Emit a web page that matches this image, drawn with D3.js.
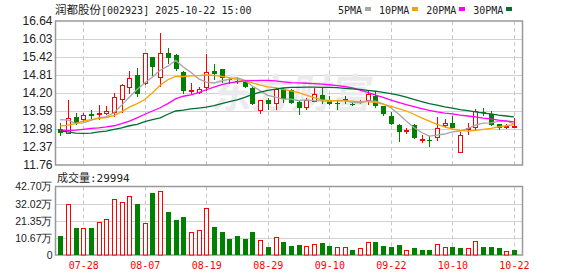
<!DOCTYPE html>
<html>
<head>
<meta charset="utf-8">
<title>润都股份 K线</title>
<style>
  body { margin: 0; background: #fff; }
  svg { display: block; }
  .mono { font-family: "DejaVu Sans Mono", "Liberation Mono", monospace; }
  .cjk { font-family: "Noto Sans CJK SC", sans-serif; }
  .yaxis text { font-family: "Liberation Sans", Arial, sans-serif; font-size: 12px; fill: #222; }
  .vaxis text { font-family: "Liberation Sans", Arial, sans-serif; font-size: 10.5px; fill: #222; }
  .xaxis text { font-family: "DejaVu Sans Mono", monospace; font-size: 10px; fill: #ff0000; }
</style>
</head>
<body>
<svg id="chart" width="578" height="276"></svg>
<script src="https://cdn.jsdelivr.net/npm/d3@7"></script>
<script>
  // trading days shown
  var dates = ["07-23", "07-24", "07-25", "07-28", "07-29", "07-30", "07-31", "08-01",
    "08-04", "08-05", "08-06", "08-07", "08-08", "08-11", "08-12", "08-13", "08-14", "08-15",
    "08-18", "08-19", "08-20", "08-21", "08-22", "08-25", "08-26", "08-27", "08-28", "08-29",
    "09-01", "09-02", "09-03", "09-04", "09-05", "09-08", "09-09", "09-10", "09-11", "09-12",
    "09-15", "09-16", "09-17", "09-18", "09-19", "09-22", "09-23", "09-24", "09-25", "09-26",
    "09-29", "09-30", "10-09", "10-10", "10-13", "10-14", "10-15", "10-16", "10-17", "10-20",
    "10-21", "10-22"];

  var open = [12.98, 12.82, 13.37, 13.27, 13.49, 13.46, 13.49, 13.51, 13.97, 14.36,
    14.81, 14.50, 15.42, 14.72, 15.54, 15.49, 14.91, 14.27, 14.19, 14.38,
    14.94, 15.01, 14.66, 14.61, 14.56, 14.37, 13.60, 13.96, 13.82, 14.32,
    14.29, 13.91, 13.70, 13.88, 14.13, 13.97, 13.87, 13.99, 13.84, 13.88,
    13.93, 14.09, 13.75, 13.41, 13.10, 12.87, 13.10, 12.62, 12.61, 12.66,
    13.08, 13.18, 12.18, 12.96, 13.02, 13.55, 13.48, 13.14, 13.00, 13.05];
  var high = [13.17, 13.96, 13.51, 13.51, 13.63, 13.79, 13.76, 14.20, 14.52, 14.94,
    15.05, 15.56, 15.42, 16.23, 15.71, 15.53, 14.94, 14.53, 14.40, 15.53,
    15.19, 15.01, 14.74, 14.70, 14.61, 14.40, 13.97, 14.02, 14.38, 14.38,
    14.32, 13.97, 14.02, 14.38, 14.42, 14.09, 13.97, 14.10, 13.87, 13.97,
    14.27, 14.24, 13.77, 13.57, 13.16, 13.00, 13.14, 12.76, 12.73, 13.37,
    13.31, 13.41, 12.88, 13.19, 13.65, 13.68, 13.59, 13.16, 13.16, 13.36];
  var low = [12.74, 12.82, 13.11, 13.22, 13.30, 13.27, 13.44, 13.37, 13.52, 14.15,
    14.07, 14.47, 14.78, 14.40, 15.17, 14.94, 14.18, 14.18, 14.15, 14.27,
    14.63, 14.55, 14.49, 14.49, 14.38, 13.79, 13.50, 13.61, 13.61, 13.87,
    13.84, 13.44, 13.61, 13.88, 13.84, 13.79, 13.61, 13.82, 13.77, 13.82,
    13.78, 13.70, 13.43, 13.11, 12.55, 12.80, 12.63, 12.52, 12.37, 12.59,
    13.02, 13.02, 12.18, 12.77, 12.96, 13.43, 13.08, 12.93, 12.97, 13.02];
  var close = [12.83, 13.36, 13.17, 13.44, 13.42, 13.52, 13.59, 14.05, 14.46, 14.70,
    14.15, 15.54, 15.08, 15.54, 15.37, 15.02, 14.27, 14.31, 14.33, 14.91,
    14.83, 14.70, 14.63, 14.58, 14.40, 13.82, 13.96, 13.82, 14.32, 14.01,
    13.87, 13.70, 13.97, 14.15, 13.96, 13.82, 13.85, 13.93, 13.82, 13.93,
    14.15, 13.77, 13.48, 13.16, 12.89, 12.95, 12.66, 12.65, 12.58, 13.00,
    13.17, 13.02, 12.76, 13.00, 13.58, 13.52, 13.10, 13.00, 13.08, 13.07];

  // volume in 万 (10k shares)
  var volume = [11.8, 31.5, 17.0, 16.6, 17.0, 20.3, 22.4, 35.2, 33.1, 36.5,
    31.5, 19.7, 38.5, 39.8, 26.5, 21.8, 23.6, 14.1, 15.3, 29.0,
    17.4, 14.3, 9.9, 11.8, 9.9, 14.3, 9.1, 5.0, 11.2, 7.9,
    5.6, 6.2, 5.6, 6.6, 7.5, 5.6, 5.0, 5.0, 3.1, 4.4,
    7.9, 8.1, 5.6, 5.0, 6.2, 2.9, 4.4, 3.1, 3.1, 6.6,
    5.0, 5.0, 4.4, 4.4, 8.7, 5.0, 5.0, 4.4, 2.3, 2.9994];

  var ma5 = [13.30, 13.28, 13.17, 13.19, 13.27, 13.36, 13.40, 13.53, 13.79, 14.06,
    14.32, 14.55, 14.74, 14.97, 15.11, 15.31, 15.08, 14.90, 14.68, 14.57,
    14.54, 14.61, 14.67, 14.72, 14.63, 14.43, 14.28, 14.12, 14.06, 13.99,
    13.99, 13.94, 13.97, 13.94, 13.93, 13.92, 13.95, 13.94, 13.88, 13.87,
    13.93, 13.92, 13.83, 13.70, 13.49, 13.25, 13.03, 12.86, 12.74, 12.77,
    12.81, 12.88, 12.91, 12.99, 13.11, 13.18, 13.19, 13.24, 13.26, 13.15];
  var ma10 = [13.08, 13.11, 13.16, 13.25, 13.30, 13.34, 13.37, 13.43, 13.57, 13.72,
    13.84, 13.98, 14.21, 14.46, 14.65, 14.76, 14.76, 14.78, 14.79, 14.81,
    14.80, 14.76, 14.72, 14.66, 14.61, 14.54, 14.47, 14.41, 14.38, 14.32,
    14.27, 14.21, 14.13, 14.04, 13.97, 13.95, 13.93, 13.93, 13.92, 13.91,
    13.91, 13.88, 13.82, 13.75, 13.67, 13.59, 13.48, 13.36, 13.25, 13.14,
    13.05, 12.98, 12.93, 12.91, 12.93, 12.97, 13.00, 13.05, 13.09, 13.13];
  var ma20 = [12.93, 12.93, 12.94, 12.97, 13.00, 13.02, 13.05, 13.09, 13.16, 13.25,
    13.36, 13.48, 13.59, 13.70, 13.84, 14.00, 14.09, 14.14, 14.21, 14.31,
    14.40, 14.48, 14.54, 14.58, 14.61, 14.62, 14.63, 14.63, 14.61, 14.58,
    14.55, 14.54, 14.53, 14.52, 14.50, 14.48, 14.45, 14.42, 14.37, 14.30,
    14.22, 14.13, 14.05, 13.96, 13.88, 13.81, 13.74, 13.67, 13.61, 13.56,
    13.52, 13.49, 13.45, 13.42, 13.39, 13.35, 13.32, 13.28, 13.25, 13.22];
  var ma30 = [12.91, 12.88, 12.84, 12.83, 12.84, 12.88, 12.91, 12.97, 13.02, 13.09,
    13.14, 13.23, 13.30, 13.36, 13.48, 13.59, 13.62, 13.66, 13.69, 13.72,
    13.77, 13.84, 13.91, 13.97, 14.05, 14.15, 14.23, 14.29, 14.33, 14.37,
    14.39, 14.39, 14.40, 14.40, 14.39, 14.39, 14.38, 14.36, 14.34, 14.32,
    14.29, 14.26, 14.22, 14.18, 14.13, 14.06, 13.98, 13.91, 13.84, 13.79,
    13.73, 13.69, 13.64, 13.60, 13.56, 13.52, 13.49, 13.45, 13.42, 13.39];

  var priceTicks = [11.76, 12.37, 12.98, 13.59, 14.20, 14.81, 15.42, 16.03, 16.64];
  var volTicks = [0, 10.67, 21.35, 32.02, 42.70];
  var dateTicks = ["07-28", "08-07", "08-19", "08-29", "09-10", "09-22", "10-10", "10-22"];

  var stockName = "润都股份";
  var stockInfo = "[002923] 2025-10-22 15:00";
  var volLabel = "成交量";
  var lastVolume = "29994";

  var maNames = ["5PMA", "10PMA", "20PMA", "30PMA"];
  var maSeries = [ma5, ma10, ma20, ma30];
  var maColors = ["#a6a6a6", "#f5a300", "#ff00ff", "#006e33"];
  var upColor = "#ff0000", downColor = "#008000";

  var svg = d3.select("#chart");
  var left = 55.5, right = 522.5,
    pTop = 21, pBot = 165,
    vTop = 186.5, vBot = 255;

  var x = d3.scalePoint().domain(dates).range([60.2, 513.9]);
  var y = d3.scaleLinear().domain([11.76, 16.64]).range([pBot, pTop]);
  var yv = d3.scaleLinear().domain([0, 42.70]).range([vBot, vTop]);

  function px(v) { return Math.round(v) + 0.5; }

  // grid
  var grid = svg.append("g");
  grid.selectAll(".hp").data(priceTicks.slice(1, -1)).join("line")
    .attr("x1", left).attr("x2", right)
    .attr("y1", function (d) { return px(y(d)); })
    .attr("y2", function (d) { return px(y(d)); })
    .attr("stroke", "#d2d2d2");
  grid.selectAll(".hv").data(volTicks.slice(1, -1)).join("line")
    .attr("x1", left).attr("x2", right)
    .attr("y1", function (d) { return px(yv(d)); })
    .attr("y2", function (d) { return px(yv(d)); })
    .attr("stroke", "#d2d2d2");
  [[pTop, pBot], [vTop, vBot]].forEach(function (r) {
    grid.append("g").selectAll("line").data(dateTicks).join("line")
      .attr("x1", function (d) { return px(x(d)); })
      .attr("x2", function (d) { return px(x(d)); })
      .attr("y1", r[0]).attr("y2", r[1])
      .attr("stroke", "#c8c8c8")
      .attr("stroke-dasharray", "4,3");
  });

  // watermark
  svg.append("text")
    .attr("class", "cjk")
    .attr("x", 292).attr("y", 108)
    .attr("text-anchor", "middle")
    .attr("font-size", 40)
    .attr("font-weight", "bold")
    .attr("fill", "#ebebee")
    .attr("transform", "skewX(-8) translate(14,0)")
    .text("东方财富");

  // frames
  svg.append("rect").attr("x", left).attr("y", pTop)
    .attr("width", right - left).attr("height", pBot - pTop)
    .attr("fill", "none").attr("stroke", "#999").attr("stroke-width", 1.5);
  svg.append("rect").attr("x", left).attr("y", vTop)
    .attr("width", right - left).attr("height", vBot - vTop)
    .attr("fill", "none").attr("stroke", "#999").attr("stroke-width", 1.5);

  var idx = d3.range(dates.length);

  // candles
  var candle = svg.append("g").selectAll("g").data(idx).join("g");
  candle.append("line")
    .attr("x1", function (i) { return px(x(dates[i])); })
    .attr("x2", function (i) { return px(x(dates[i])); })
    .attr("y1", function (i) { return Math.round(y(high[i])); })
    .attr("y2", function (i) { return Math.round(y(low[i])); })
    .attr("stroke", function (i) { return close[i] >= open[i] ? upColor : downColor; });
  candle.append("rect")
    .attr("x", function (i) {
      var c = Math.round(x(dates[i]));
      return close[i] >= open[i] ? c - 1.5 : c - 2;
    })
    .attr("width", function (i) { return close[i] >= open[i] ? 4 : 5; })
    .attr("y", function (i) {
      var t = Math.round(y(Math.max(open[i], close[i])));
      return close[i] >= open[i] ? t + 0.5 : t;
    })
    .attr("height", function (i) {
      var h = Math.round(y(Math.min(open[i], close[i]))) - Math.round(y(Math.max(open[i], close[i])));
      return Math.max(1, close[i] >= open[i] ? h - 1 : h);
    })
    .attr("fill", function (i) { return close[i] >= open[i] ? "#fff" : downColor; })
    .attr("stroke", function (i) { return close[i] >= open[i] ? upColor : "none"; });

  // moving averages
  maSeries.forEach(function (s, k) {
    svg.append("path")
      .datum(s)
      .attr("fill", "none")
      .attr("stroke", maColors[k])
      .attr("stroke-width", 1.3)
      .attr("d", d3.line()
        .x(function (d, i) { return x(dates[i]); })
        .y(function (d) { return y(d); }));
  });

  // volume bars (colour by change against previous close)
  function volUp(i) { return i === 0 ? close[0] >= open[0] : close[i] >= close[i - 1]; }
  svg.append("g").selectAll("rect").data(idx).join("rect")
    .attr("x", function (i) {
      var c = Math.round(x(dates[i]));
      return volUp(i) ? c - 1.5 : c - 2;
    })
    .attr("width", function (i) { return volUp(i) ? 4 : 5; })
    .attr("y", function (i) {
      var t = Math.round(yv(volume[i]));
      return volUp(i) ? t + 0.5 : t;
    })
    .attr("height", function (i) {
      var h = Math.round(yv(0)) - Math.round(yv(volume[i]));
      return volUp(i) ? h - 0.5 : h;
    })
    .attr("fill", function (i) { return volUp(i) ? "#fff" : downColor; })
    .attr("stroke", function (i) { return volUp(i) ? upColor : "none"; });

  // axes
  var ya = svg.append("g").attr("class", "yaxis")
    .attr("transform", "translate(" + left + ",0)")
    .call(d3.axisLeft(y).tickValues(priceTicks).tickSize(0).tickPadding(3)
      .tickFormat(d3.format(".2f")));
  ya.select(".domain").remove();

  var va = svg.append("g").attr("class", "vaxis")
    .attr("transform", "translate(" + left + ",0)")
    .call(d3.axisLeft(yv).tickValues(volTicks).tickSize(0).tickPadding(3)
      .tickFormat(function (d) { return d === 0 ? "0" : d.toFixed(2) + "万"; }));
  va.select(".domain").remove();

  var xa = svg.append("g").attr("class", "xaxis")
    .attr("transform", "translate(0," + vBot + ")")
    .call(d3.axisBottom(x).tickValues(dateTicks).tickSize(0).tickPadding(7));
  xa.select(".domain").remove();

  // header
  var title = svg.append("text").attr("x", 55).attr("y", 14).attr("fill", "#222");
  title.append("tspan").attr("class", "cjk").attr("font-size", 11.5).text(stockName);
  title.append("tspan").attr("class", "mono").attr("font-size", 10).text(stockInfo);

  var lx = 338;
  maNames.forEach(function (n, k) {
    svg.append("text").attr("class", "mono").attr("font-size", 10)
      .attr("x", lx).attr("y", 13.5).attr("fill", "#222").text(n);
    lx += n.length * 6.02 + 3;
    svg.append("rect").attr("x", Math.round(lx)).attr("y", 7)
      .attr("width", 6).attr("height", 4).attr("fill", maColors[k]);
    lx += 6 + 8;
  });

  var vt = svg.append("text").attr("x", 57).attr("y", 182).attr("fill", "#222");
  vt.append("tspan").attr("class", "cjk").attr("font-size", 11).text(volLabel);
  vt.append("tspan").attr("class", "mono").attr("font-size", 11).text(":" + lastVolume);
</script>
</body>
</html>
